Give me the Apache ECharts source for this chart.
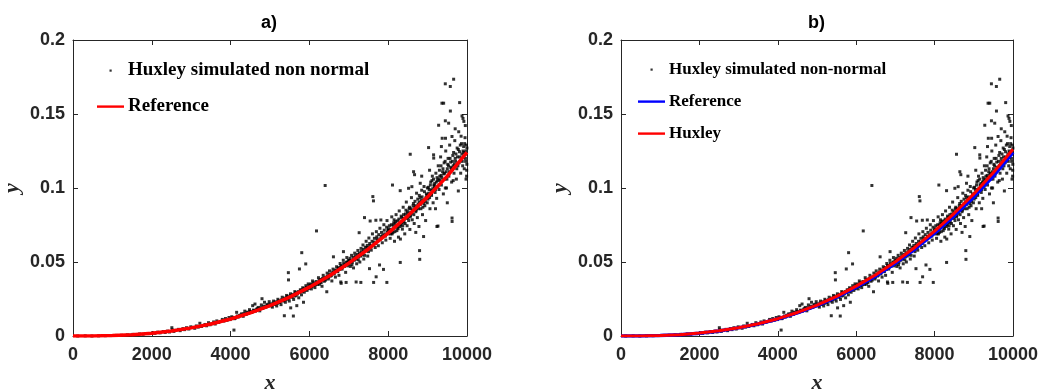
<!DOCTYPE html>
<html>
<head>
<meta charset="utf-8">
<script src="https://cdn.jsdelivr.net/npm/echarts@6/dist/echarts.min.js"></script>
<style>
html,body{margin:0;padding:0;background:#fff;}
#chart{width:1043px;height:389px;}
</style>
</head>
<body>
<div id="chart"></div>
<script>
// ---------- data ----------
const xTicks = [0, 2000, 4000, 6000, 8000, 10000];
const yTicks = [0, 0.05, 0.1, 0.15, 0.2];

// smooth curves sampled every 500 in x
const curveX = [0,500,1000,1500,2000,2500,3000,3500,4000,4500,5000,5500,6000,6500,7000,7500,8000,8500,9000,9500,10000];
const referenceY = [0,0.0000,0.0003,0.0009,0.0019,0.0034,0.0055,0.0081,0.0115,0.0156,0.0205,0.0263,0.0330,0.0406,0.0492,0.0588,0.0695,0.0812,0.0940,0.1080,0.1240];
const huxleyY = [0,0.0000,0.0003,0.0009,0.0020,0.0035,0.0056,0.0083,0.0117,0.0159,0.0209,0.0268,0.0337,0.0414,0.0502,0.0600,0.0709,0.0829,0.0960,0.1104,0.1262];

// simulated non-normal points [x, y]
const simPoints = [
[120,0.0000],[310,0.0001],[480,0.0000],[650,0.0001],[820,0.0002],[960,0.0003],[1100,0.0004],[1230,0.0005],[1380,0.0008],[1450,0.0006],[1520,0.0011],[1600,0.0010],[1690,0.0014],[1780,0.0012],[1850,0.0017],[1930,0.0016],
[2020,0.0022],[2080,0.0018],[2150,0.0026],[2210,0.0021],[2290,0.0030],[2340,0.0024],[2400,0.0033],[2450,0.0027],[2509,0.0056],[2520,0.0041],[2560,0.0031],[2610,0.0038],[2680,0.0045],[2720,0.0036],[2790,0.0050],[2830,0.0043],[2880,0.0056],[2940,0.0047],[2990,0.0062],
[3040,0.0058],[3090,0.0052],[3130,0.0068],[3180,0.0060],[3220,0.0086],[3260,0.0064],[3310,0.0071],[3350,0.0078],[3390,0.0069],[3440,0.0090],[3480,0.0076],[3520,0.0083],[3570,0.0095],[3610,0.0081],[3650,0.0102],[3700,0.0092],[3740,0.0098],[3790,0.0112],[3830,0.0101],[3870,0.0118],[3910,0.0106],[3960,0.0125],[3990,0.0111],
[4030,0.0130],[4085,0.0040],[4100,0.0117],[4153,0.0160],[4190,0.0128],[4230,0.0139],[4280,0.0150],[4320,0.0133],[4360,0.0168],[4400,0.0147],[4440,0.0156],[4480,0.0178],[4520,0.0160],[4560,0.0205],[4600,0.0172],[4619,0.0216],[4660,0.0181],[4700,0.0193],[4740,0.0170],[4780,0.0210],[4797,0.0252],[4820,0.0188],[4860,0.0228],[4900,0.0196],[4940,0.0214],[4980,0.0232],
[4010,0.0118],[4060,0.0125],[4120,0.0121],[4170,0.0135],[4210,0.0131],[4260,0.0142],[4300,0.0139],[4340,0.0151],[4380,0.0146],[4420,0.0161],[4460,0.0153],[4500,0.0166],[4540,0.0159],[4580,0.0175],[4630,0.0168],[4680,0.0184],[4720,0.0180],[4760,0.0191],[4800,0.0186],[4840,0.0202],[4880,0.0195],[4920,0.0208],[4960,0.0203],
[5020,0.0210],[5060,0.0195],[5090,0.0236],[5130,0.0218],[5170,0.0203],[5200,0.0248],[5240,0.0226],[5280,0.0212],[5310,0.0262],[5350,0.0240],[5364,0.0137],[5390,0.0228],[5420,0.0274],[5450,0.0250],[5466,0.0428],[5470,0.0379],[5490,0.0236],[5520,0.0285],[5525,0.0190],[5560,0.0262],[5593,0.0135],[5600,0.0247],[5630,0.0300],[5660,0.0272],[5680,0.0205],[5700,0.0290],[5730,0.0258],[5747,0.0453],[5770,0.0312],[5800,0.0278],[5806,0.0563],[5830,0.0326],[5850,0.0228],[5870,0.0296],[5907,0.0487],[5910,0.0340],[5940,0.0308],[5970,0.0352],[5990,0.0322],
[5010,0.0216],[5040,0.0204],[5075,0.0222],[5110,0.0213],[5150,0.0231],[5185,0.0220],[5220,0.0238],[5260,0.0232],[5295,0.0245],[5330,0.0236],[5370,0.0256],[5405,0.0247],[5440,0.0266],[5480,0.0255],[5510,0.0272],[5545,0.0268],[5580,0.0281],[5615,0.0270],[5650,0.0292],[5690,0.0283],[5720,0.0300],[5760,0.0294],[5790,0.0310],[5820,0.0301],[5860,0.0320],[5890,0.0312],[5925,0.0328],[5960,0.0319],[5985,0.0338],
[6020,0.0345],[6050,0.0318],[6060,0.0335],[6080,0.0372],[6110,0.0340],[6130,0.0350],[6140,0.0327],[6180,0.0710],[6200,0.0362],[6210,0.0348],[6230,0.0394],[6260,0.0350],[6280,0.0365],[6290,0.0382],[6320,0.0336],[6350,0.0410],[6360,0.0380],[6380,0.0370],[6400,0.1017],[6420,0.0398],[6440,0.0395],[6441,0.0299],[6450,0.0425],[6480,0.0385],[6500,0.0412],[6510,0.0440],[6540,0.0405],[6570,0.0372],[6580,0.0420],[6600,0.0452],[6610,0.0535],[6630,0.0420],[6650,0.0440],[6660,0.0398],[6690,0.0468],[6720,0.0435],[6730,0.0455],[6750,0.0410],[6780,0.0490],[6797,0.0365],[6806,0.0356],[6810,0.0470],[6830,0.0452],[6860,0.0512],[6864,0.0570],[6880,0.0480],[6890,0.0470],[6920,0.0430],[6932,0.0362],[6950,0.0530],[6960,0.0500],[6980,0.0486],
[6010,0.0330],[6040,0.0352],[6070,0.0338],[6100,0.0360],[6150,0.0346],[6170,0.0368],[6220,0.0358],[6250,0.0378],[6300,0.0362],[6330,0.0388],[6370,0.0392],[6410,0.0378],[6460,0.0404],[6490,0.0398],[6520,0.0418],[6560,0.0410],[6590,0.0432],[6620,0.0428],[6670,0.0446],[6700,0.0438],[6740,0.0462],[6770,0.0450],[6800,0.0476],[6840,0.0466],[6870,0.0492],[6910,0.0482],[6940,0.0498],[6970,0.0474],[6990,0.0512],
[7020,0.0510],[7040,0.0470],[7070,0.0545],[7090,0.0498],[7120,0.0460],[7150,0.0560],[7170,0.0520],[7186,0.0365],[7200,0.0488],[7230,0.0578],[7250,0.0535],[7263,0.0698],[7280,0.0500],[7306,0.0362],[7310,0.0592],[7330,0.0548],[7360,0.0615],[7380,0.0520],[7398,0.0800],[7410,0.0572],[7440,0.0640],[7460,0.0598],[7480,0.0540],[7510,0.0662],[7525,0.0455],[7540,0.0610],[7542,0.0777],[7570,0.0580],[7600,0.0690],[7610,0.0942],[7626,0.0913],[7630,0.0362],[7640,0.0635],[7670,0.0598],[7687,0.0782],[7694,0.0400],[7700,0.0705],[7720,0.0655],[7750,0.0610],[7780,0.0480],[7790,0.0728],[7814,0.0784],[7820,0.0672],[7850,0.0630],[7880,0.0450],[7890,0.0752],[7910,0.0690],[7940,0.0648],[7966,0.0362],[7970,0.0780],[7990,0.0712],
[7010,0.0490],[7030,0.0525],[7060,0.0505],[7080,0.0482],[7110,0.0530],[7140,0.0512],[7160,0.0542],[7190,0.0522],[7220,0.0552],[7240,0.0515],[7270,0.0560],[7300,0.0540],[7320,0.0570],[7350,0.0555],[7370,0.0585],[7400,0.0545],[7420,0.0600],[7450,0.0580],[7470,0.0612],[7500,0.0570],[7530,0.0625],[7560,0.0600],[7590,0.0640],[7620,0.0615],[7650,0.0660],[7680,0.0625],[7710,0.0670],[7740,0.0645],[7760,0.0685],[7800,0.0655],[7830,0.0700],[7860,0.0680],[7900,0.0715],[7930,0.0675],[7960,0.0735],[7985,0.0700],
[8010,0.0690],[8015,0.0715],[8030,0.0745],[8050,0.0660],[8065,0.0690],[8070,0.0720],[8090,0.0805],[8109,0.1020],[8120,0.0700],[8125,0.0748],[8140,0.0765],[8160,0.0640],[8175,0.0762],[8180,0.0738],[8200,0.0820],[8220,0.0712],[8235,0.0735],[8240,0.0778],[8260,0.0668],[8280,0.0845],[8290,0.0760],[8305,0.0982],[8306,0.0497],[8310,0.0655],[8320,0.0750],[8340,0.0800],[8345,0.0770],[8360,0.0722],[8380,0.0870],[8395,0.0795],[8400,0.0770],[8420,0.0690],[8440,0.0825],[8455,0.0805],[8460,0.0905],[8480,0.0745],[8500,0.0800],[8510,0.0825],[8517,0.0998],[8530,0.0860],[8550,0.0720],[8559,0.1228],[8565,0.0815],[8570,0.0835],[8590,0.0935],[8601,0.1009],[8610,0.0785],[8620,0.0850],[8630,0.0880],[8644,0.1110],[8660,0.0760],[8669,0.1090],[8675,0.0865],[8680,0.0910],[8700,0.0840],[8720,0.0965],[8730,0.0870],[8740,0.0800],[8760,0.0890],[8780,0.0740],[8785,0.0905],[8796,0.0577],[8800,0.0518],[8810,0.0935],[8813,0.1032],[8830,0.0860],[8840,0.0915],[8850,0.0985],[8870,0.0820],[8890,0.0920],[8898,0.0672],[8905,0.0895],[8910,0.1010],[8930,0.0880],[8950,0.0780],[8960,0.0935],[8970,0.0960],[8990,0.0900],
[8005,0.0725],[8040,0.0700],[8080,0.0752],[8100,0.0690],[8130,0.0725],[8150,0.0785],[8170,0.0705],[8190,0.0775],[8210,0.0745],[8250,0.0725],[8270,0.0790],[8300,0.0740],[8330,0.0810],[8350,0.0765],[8370,0.0745],[8390,0.0820],[8410,0.0790],[8430,0.0760],[8450,0.0850],[8470,0.0795],[8490,0.0840],[8520,0.0780],[8540,0.0870],[8560,0.0805],[8580,0.0860],[8600,0.0830],[8640,0.0895],[8650,0.0820],[8690,0.0880],[8710,0.0850],[8750,0.0925],[8770,0.0860],[8790,0.0950],[8820,0.0890],[8860,0.0940],[8880,0.0870],[8920,0.0975],[8940,0.0910],[8980,0.0950],[8995,0.1000],[8700,0.0700],[8850,0.1080],
[9010,0.0925],[9025,0.1273],[9030,0.0965],[9040,0.0990],[9060,0.0860],[9080,0.1040],[9090,0.0985],[9100,0.0950],[9120,0.1080],[9140,0.0900],[9152,0.1224],[9155,0.1202],[9160,0.1020],[9170,0.1010],[9190,0.0970],[9210,0.1100],[9220,0.1040],[9230,0.0930],[9237,0.0740],[9250,0.1050],[9263,0.0743],[9270,0.1150],[9280,0.1424],[9285,0.1060],[9290,0.0990],[9310,0.1080],[9330,0.1210],[9345,0.1085],[9350,0.1020],[9364,0.1573],[9370,0.1336],[9380,0.1110],[9400,0.0960],[9407,0.1573],[9410,0.1095],[9420,0.1170],[9440,0.1060],[9449,0.1704],[9450,0.1454],[9455,0.1336],[9460,0.1250],[9470,0.1110],[9480,0.1000],[9500,0.1130],[9520,0.1200],[9530,0.1150],[9534,0.1438],[9540,0.1080],[9560,0.1290],[9576,0.1686],[9578,0.1520],[9585,0.1175],[9590,0.1140],[9610,0.1040],[9619,0.1348],[9620,0.0797],[9622,0.0774],[9640,0.1220],[9650,0.1150],[9661,0.1735],[9670,0.1100],[9690,0.1320],[9700,0.1200],[9710,0.1180],[9730,0.1060],[9750,0.1270],[9760,0.1210],[9770,0.1150],[9790,0.1380],[9810,0.1245],[9813,0.1577],[9820,0.1210],[9840,0.1100],[9850,0.1190],[9860,0.1300],[9873,0.1487],[9880,0.1180],[9898,0.1470],[9900,0.1250],[9910,0.1210],[9915,0.1280],[9930,0.1130],[9950,0.1340],[9957,0.1422],[9960,0.1200],[9970,0.1250],[9975,0.1060],[9985,0.1290],[9990,0.1080],[9992,0.1120],[9995,0.1160],
[9005,0.0950],[9020,0.1005],[9050,0.0935],[9070,0.1020],[9095,0.0960],[9110,0.1050],[9130,0.0995],[9150,0.1060],[9180,0.1030],[9200,0.0990],[9240,0.1070],[9260,0.1010],[9300,0.1120],[9320,0.1050],[9340,0.1150],[9360,0.1070],[9390,0.1130],[9430,0.1100],[9445,0.1180],[9490,0.1060],[9510,0.1160],[9550,0.1110],[9570,0.1200],[9600,0.1130],[9630,0.1180],[9660,0.1240],[9680,0.1160],[9720,0.1230],[9740,0.1130],[9780,0.1260],[9800,0.1170],[9830,0.1290],[9870,0.1230],[9890,0.1150],[9920,0.1240],[9940,0.1300],[9965,0.1180],[9980,0.1230],[9998,0.1270],
[9050,0.1120],[9200,0.0860],[9350,0.1280],[9500,0.0900],[9650,0.1050],[9700,0.1400],[9850,0.1350],[9920,0.1450],[9780,0.0980],[9450,0.1000]
];

const titles = ['a)', 'b)'];
const axisNames = ['x', 'y'];
const nameScatterA = 'Huxley simulated non normal';
const nameScatterB = 'Huxley simulated non-normal';
const nameRef = 'Reference';
const nameHux = 'Huxley';

// ---------- chart ----------
const chart = echarts.init(document.getElementById('chart'), null, {renderer: 'canvas'});
const INK = '#262626';
const refLine = curveX.map((x, i) => [x, referenceY[i]]);
const huxLine = curveX.map((x, i) => [x, huxleyY[i]]);
// legend icons: bounding box fixed by move-to points, only the small mark is filled
const DOT_ICON = 'path://M0,0M27,14M12.5,6h2.2v2.2h-2.2z';
const LINE_ICON = 'path://M0,0M27,14M0,5.9h27v2.4h-27z';

const grids = [
  {left: 73, top: 40, width: 394, height: 296},
  {left: 621, top: 40, width: 392, height: 296}
];
const labelFont = {fontFamily: 'Liberation Sans, Arial, sans-serif', fontWeight: 'bold', fontSize: 18, color: INK};
const nameFont = {fontFamily: 'Liberation Serif, Times New Roman, serif', fontStyle: 'italic', fontWeight: 'bold', fontSize: 22, color: INK};

function xAxes(gi) {
  return [
    {gridIndex: gi, type: 'value', min: xTicks[0], max: xTicks[xTicks.length - 1], interval: xTicks[1] - xTicks[0],
     position: 'bottom', name: axisNames[0], nameLocation: 'middle', nameGap: 36, nameTextStyle: nameFont,
     axisLine: {show: true, onZero: false, lineStyle: {color: INK, width: 1}},
     axisTick: {show: true, inside: true, length: 5, lineStyle: {color: INK}},
     axisLabel: Object.assign({margin: 10, formatter: v => String(v)}, labelFont),
     splitLine: {show: false}},
    {gridIndex: gi, type: 'value', min: xTicks[0], max: xTicks[xTicks.length - 1], interval: xTicks[1] - xTicks[0],
     position: 'top',
     axisLine: {show: true, onZero: false, lineStyle: {color: INK, width: 1}},
     axisTick: {show: true, inside: true, length: 5, lineStyle: {color: INK}},
     axisLabel: {show: false}, splitLine: {show: false}}
  ];
}
function yAxes(gi) {
  return [
    {gridIndex: gi, type: 'value', min: yTicks[0], max: yTicks[yTicks.length - 1], interval: yTicks[1] - yTicks[0],
     position: 'left', name: axisNames[1], nameLocation: 'middle', nameGap: 50, nameTextStyle: nameFont,
     axisLine: {show: true, onZero: false, lineStyle: {color: INK, width: 1}},
     axisTick: {show: true, inside: true, length: 5, lineStyle: {color: INK}},
     axisLabel: Object.assign({margin: 8}, labelFont),
     splitLine: {show: false}},
    {gridIndex: gi, type: 'value', min: yTicks[0], max: yTicks[yTicks.length - 1], interval: yTicks[1] - yTicks[0],
     position: 'right',
     axisLine: {show: true, onZero: false, lineStyle: {color: INK, width: 1}},
     axisTick: {show: true, inside: true, length: 5, lineStyle: {color: INK}},
     axisLabel: {show: false}, splitLine: {show: false}}
  ];
}

const option = {
  animation: false,
  backgroundColor: '#ffffff',
  title: [
    {text: titles[0], left: 261, top: 14, padding: 0, textStyle: {fontFamily: 'Liberation Sans, Arial, sans-serif', fontWeight: 'bold', fontSize: 18, color: '#000'}},
    {text: titles[1], left: 808, top: 14, padding: 0, textStyle: {fontFamily: 'Liberation Sans, Arial, sans-serif', fontWeight: 'bold', fontSize: 18, color: '#000'}}
  ],
  grid: grids.map(g => Object.assign({outerBoundsMode: 'none', containLabel: false}, g)),
  xAxis: xAxes(0).concat(xAxes(1)),
  yAxis: yAxes(0).concat(yAxes(1)),
  legend: [
    {left: 97, top: 61, orient: 'vertical', itemWidth: 27, itemHeight: 14, itemGap: 17, padding: 0,
     selectedMode: false,
     textStyle: {fontFamily: 'Liberation Serif, Times New Roman, serif', fontWeight: 'bold', fontSize: 19, color: '#000', padding: [0, 0, 0, -1]},
     data: [{name: nameScatterA, icon: DOT_ICON}, {name: nameRef, icon: LINE_ICON}]},
    {left: 638, top: 61, orient: 'vertical', itemWidth: 27, itemHeight: 14, itemGap: 15, padding: 0,
     selectedMode: false,
     formatter: n => n.replace(' (b)', ''),
     textStyle: {fontFamily: 'Liberation Serif, Times New Roman, serif', fontWeight: 'bold', fontSize: 17, color: '#000', padding: [0, 0, 0, -1]},
     data: [{name: nameScatterB, icon: DOT_ICON}, {name: nameRef + ' (b)', icon: LINE_ICON}, {name: nameHux, icon: LINE_ICON}]}
  ],
  series: [
    {name: nameScatterA, type: 'scatter', xAxisIndex: 0, yAxisIndex: 0, data: simPoints,
     symbol: 'rect', symbolSize: 3, itemStyle: {color: '#000'}, silent: true, z: 2},
    {name: nameRef, type: 'line', xAxisIndex: 0, yAxisIndex: 0, data: refLine,
     showSymbol: false, symbol: 'none', lineStyle: {color: '#ff0000', width: 3.5}, itemStyle: {color: '#ff0000'}, silent: true, z: 3},
    {name: nameScatterB, type: 'scatter', xAxisIndex: 2, yAxisIndex: 2, data: simPoints,
     symbol: 'rect', symbolSize: 3, itemStyle: {color: '#000'}, silent: true, z: 2},
    {name: nameRef + ' (b)', type: 'line', xAxisIndex: 2, yAxisIndex: 2, data: refLine,
     showSymbol: false, symbol: 'none', lineStyle: {color: '#0000ff', width: 3.5}, itemStyle: {color: '#0000ff'}, silent: true, z: 3},
    {name: nameHux, type: 'line', xAxisIndex: 2, yAxisIndex: 2, data: huxLine,
     showSymbol: false, symbol: 'none', lineStyle: {color: '#ff0000', width: 3}, itemStyle: {color: '#ff0000'}, silent: true, z: 4}
  ]
};
chart.setOption(option);
</script>
</body>
</html>
